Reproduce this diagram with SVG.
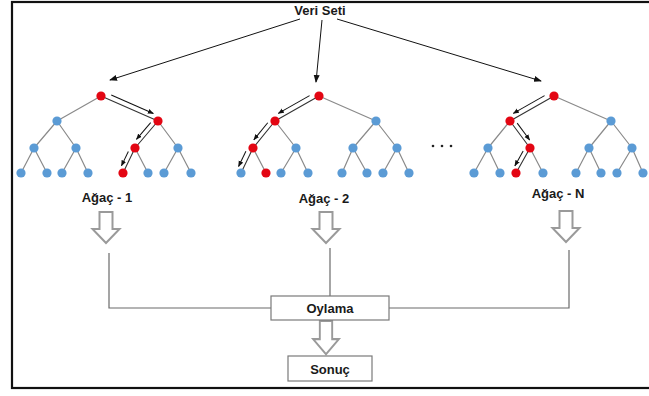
<svg xmlns="http://www.w3.org/2000/svg" width="649" height="396" viewBox="0 0 649 396">
<defs>
<marker id="ah" markerUnits="userSpaceOnUse" markerWidth="8" markerHeight="8" viewBox="0 0 8 8" refX="7" refY="4" orient="auto"><path d="M0,1 L8,4 L0,7 z" fill="#111"/></marker>
<marker id="ahs" markerUnits="userSpaceOnUse" markerWidth="6" markerHeight="6" viewBox="0 0 6 6" refX="5.5" refY="3" orient="auto"><path d="M0,0.6 L6,3 L0,5.4 z" fill="#111"/></marker>
<path id="hollow" d="M-6.5,0 H6.5 V17 H13.5 L0,31 L-13.5,17 H-6.5 Z"/>
</defs>
<style>
.e{stroke:#8a8a8a;stroke-width:1.2;fill:none}
.d{stroke:#333;stroke-width:1.1;fill:none}
.b{fill:#5b9bd5}
.r{fill:#e30613}
.p{stroke:#111;stroke-width:1;fill:none}
.t{font-family:"Liberation Sans",Arial,sans-serif;font-weight:bold;font-size:13px;fill:#1a1a1a;text-anchor:middle}
.h{fill:#fff;stroke:#9a9a9a;stroke-width:2}
.c{stroke:#6a6a6a;stroke-width:1.2;fill:none}
.box{fill:#fff;stroke:#7a7a7a;stroke-width:1.2}
</style>
<rect x="12" y="2" width="660" height="386" fill="#fff" stroke="#111" stroke-width="2.2"/>

<g id="veri-seti"><text class="t" x="320" y="15" font-size="13.5">Veri Seti</text></g>

<g id="connectors">
<line class="p" x1="300" y1="19" x2="110" y2="80" stroke-width="1.3" marker-end="url(#ah)"/>
<line class="p" x1="322" y1="20" x2="316" y2="82" stroke-width="1.3" marker-end="url(#ah)"/>
<line class="p" x1="337" y1="19" x2="541" y2="81" stroke-width="1.3" marker-end="url(#ah)"/>
<polyline class="c" points="109,253 109,308 271,308"/>
<line class="c" x1="330" y1="248" x2="330" y2="296"/>
<polyline class="c" points="569,250 569,308 389,308"/>
<use href="#hollow" class="h" transform="translate(106,212)"/>
<use href="#hollow" class="h" transform="translate(326,212)"/>
<use href="#hollow" class="h" transform="translate(566,211)"/>
<use href="#hollow" class="h" transform="translate(326,321) scale(0.95,1.07)"/>
</g>

<g id="tree-1">
<path class="e" d="M101,96 L57,121 M57,121 L34,148 M57,121 L76,148 M158,121 L178,148 M34,148 L21,173 M34,148 L47,173 M76,148 L62,173 M76,148 L88,173 M135,148 L148,173 M178,148 L164,173 M178,148 L191,173"/>
<path class="d" d="M101,96 L158,121 M158,121 L135,148 M135,148 L123,173"/>
<g transform="translate(101,96) rotate(23.7)"><line class="p" x1="9" y1="-5" x2="55" y2="-5" marker-end="url(#ahs)"/></g>
<g transform="translate(158,121) rotate(130.4)"><line class="p" x1="6" y1="4.5" x2="28" y2="4.5" marker-end="url(#ahs)"/></g>
<g transform="translate(135,148) rotate(115.6)"><line class="p" x1="6" y1="4.5" x2="22" y2="4.5" marker-end="url(#ahs)"/></g>
<circle class="r" cx="101" cy="96" r="4.6"/>
<circle class="b" cx="57" cy="121" r="4.6"/><circle class="r" cx="158" cy="121" r="4.6"/>
<circle class="b" cx="34" cy="148" r="4.6"/><circle class="b" cx="76" cy="148" r="4.6"/><circle class="r" cx="135" cy="148" r="4.6"/><circle class="b" cx="178" cy="148" r="4.6"/>
<circle class="b" cx="21" cy="173" r="4.6"/><circle class="b" cx="47" cy="173" r="4.6"/><circle class="b" cx="62" cy="173" r="4.6"/><circle class="b" cx="88" cy="173" r="4.6"/><circle class="r" cx="123" cy="173" r="4.6"/><circle class="b" cx="148" cy="173" r="4.6"/><circle class="b" cx="164" cy="173" r="4.6"/><circle class="b" cx="191" cy="173" r="4.6"/>
<text class="t" x="107" y="202">Ağaç - 1</text>
</g>

<g id="tree-2">
<path class="e" d="M319,96 L376,121 M275,121 L296,148 M376,121 L353,148 M376,121 L397,148 M253,148 L266,173 M296,148 L281,173 M296,148 L308,173 M353,148 L342,173 M353,148 L367,173 M397,148 L383,173 M397,148 L409,173"/>
<path class="d" d="M319,96 L275,121 M275,121 L253,148 M253,148 L241,173"/>
<g transform="translate(319,96) rotate(150.4)"><line class="p" x1="8" y1="5" x2="44" y2="5" marker-end="url(#ahs)"/></g>
<g transform="translate(275,121) rotate(129.2)"><line class="p" x1="6" y1="4.5" x2="28" y2="4.5" marker-end="url(#ahs)"/></g>
<g transform="translate(253,148) rotate(115.6)"><line class="p" x1="6" y1="5" x2="23" y2="5" marker-end="url(#ahs)"/></g>
<circle class="r" cx="319" cy="96" r="4.6"/>
<circle class="r" cx="275" cy="121" r="4.6"/><circle class="b" cx="376" cy="121" r="4.6"/>
<circle class="r" cx="253" cy="148" r="4.6"/><circle class="b" cx="296" cy="148" r="4.6"/><circle class="b" cx="353" cy="148" r="4.6"/><circle class="b" cx="397" cy="148" r="4.6"/>
<circle class="b" cx="241" cy="173" r="4.6"/><circle class="r" cx="266" cy="173" r="4.6"/><circle class="b" cx="281" cy="173" r="4.6"/><circle class="b" cx="308" cy="173" r="4.6"/><circle class="b" cx="342" cy="173" r="4.6"/><circle class="b" cx="367" cy="173" r="4.6"/><circle class="b" cx="383" cy="173" r="4.6"/><circle class="b" cx="409" cy="173" r="4.6"/>
<text class="t" x="324" y="203">Ağaç - 2</text>
</g>

<g id="dots"><circle cx="433" cy="146" r="1.3" fill="#222"/><circle cx="442" cy="146" r="1.3" fill="#222"/><circle cx="451" cy="146" r="1.3" fill="#222"/></g>

<g id="tree-n">
<path class="e" d="M554,96 L611,121 M510,121 L488,148 M611,121 L589,148 M611,121 L632,148 M488,148 L474,173 M488,148 L500,173 M530,148 L543,173 M589,148 L576,173 M589,148 L601,173 M632,148 L617,173 M632,148 L643,173"/>
<path class="d" d="M554,96 L510,121 M510,121 L530,148 M530,148 L516,173"/>
<g transform="translate(554,96) rotate(150.4)"><line class="p" x1="8" y1="5" x2="44" y2="5" marker-end="url(#ahs)"/></g>
<g transform="translate(510,121) rotate(53.5)"><line class="p" x1="6" y1="-4.5" x2="27" y2="-4.5" marker-end="url(#ahs)"/></g>
<g transform="translate(530,148) rotate(119.2)"><line class="p" x1="6" y1="4.5" x2="23" y2="4.5" marker-end="url(#ahs)"/></g>
<circle class="r" cx="554" cy="96" r="4.6"/>
<circle class="r" cx="510" cy="121" r="4.6"/><circle class="b" cx="611" cy="121" r="4.6"/>
<circle class="b" cx="488" cy="148" r="4.6"/><circle class="r" cx="530" cy="148" r="4.6"/><circle class="b" cx="589" cy="148" r="4.6"/><circle class="b" cx="632" cy="148" r="4.6"/>
<circle class="b" cx="474" cy="173" r="4.6"/><circle class="b" cx="500" cy="173" r="4.6"/><circle class="r" cx="516" cy="173" r="4.6"/><circle class="b" cx="543" cy="173" r="4.6"/><circle class="b" cx="576" cy="173" r="4.6"/><circle class="b" cx="601" cy="173" r="4.6"/><circle class="b" cx="617" cy="173" r="4.6"/><circle class="b" cx="643" cy="173" r="4.6"/>
<text class="t" x="558" y="198">Ağaç - N</text>
</g>

<g id="oylama"><rect class="box" x="271" y="296" width="118" height="24"/><text class="t" x="330" y="312.5">Oylama</text></g>
<g id="sonuc"><rect class="box" x="288" y="356" width="84" height="25"/><text class="t" x="330" y="373.5">Sonuç</text></g>
</svg>
